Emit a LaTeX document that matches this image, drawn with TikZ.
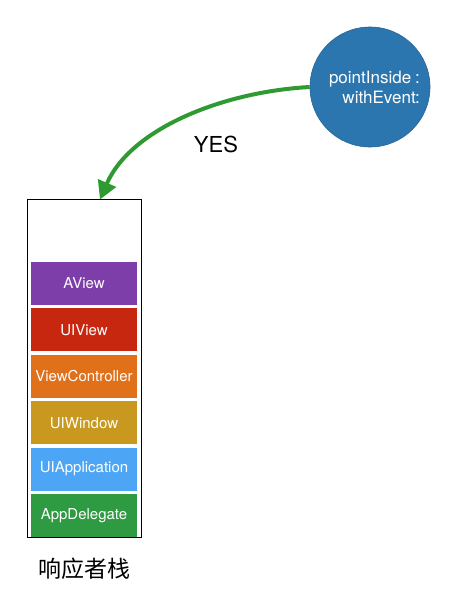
\documentclass[tikz,border=0pt]{standalone}
\usepackage{fontspec}
\setmainfont{TeX Gyre Heros}
\newfontfamily\cjk{Noto Sans CJK SC}
\usetikzlibrary{positioning,arrows.meta}
\definecolor{aviewc}{HTML}{7D3EA9}
\definecolor{uiviewc}{HTML}{C7260F}
\definecolor{vcc}{HTML}{E0701A}
\definecolor{windowc}{HTML}{C8981F}
\definecolor{appc}{HTML}{4DA6F5}
\definecolor{delegatec}{HTML}{2E9A42}
\definecolor{arrowc}{HTML}{2F9A32}
\definecolor{hitc}{HTML}{2C76AF}
\begin{document}
\begin{tikzpicture}[x=1pt,y=-1pt,
  layer/.style={minimum width=106pt,minimum height=43pt,inner sep=0pt,
    text=white,font=\fontsize{15}{17}\selectfont},
  yesarrow/.style={draw=arrowc,line width=4pt,
    -{Triangle[length=18pt,width=19pt]}}]
\useasboundingbox (0,0) rectangle (461,595);
\node[draw,line width=1pt,minimum width=114pt,minimum height=338pt,
  inner sep=0pt] (stack) at (84,368) {};
\node[layer,fill=aviewc] (aview) at (84,283.5) {AView};
\node[layer,fill=uiviewc,below=3pt of aview] (uiview) {UIView};
\node[layer,fill=vcc,below=3pt of uiview] (vc) {ViewController};
\node[layer,fill=windowc,below=3pt of vc] (window) {UIWindow};
\node[layer,fill=appc,below=3pt of window] (app) {UIApplication};
\node[layer,fill=delegatec,below=3pt of app] (delegate) {AppDelegate};
\node[font=\cjk\fontsize{23}{25}\selectfont] (title) at (84,569) {响应者栈};
% hit test
\node[circle,fill=hitc,draw=hitc!85!black,line width=0.6pt,
  minimum size=120pt] (hit) at (370,87) {};
\node[text=white,align=right,font=\fontsize{17}{20}\selectfont]
  (hittext) at (374.5,87) {pointInside\hspace{4pt}:\\withEvent:};
\draw[yesarrow] (hit.west) .. controls (220,92) and (130,130)
  .. ([xshift=16pt,yshift=-1pt]stack.north);
\node[font=\fontsize{22}{24}\selectfont] (yes) at (216,144) {YES};
\end{tikzpicture}
\end{document}
